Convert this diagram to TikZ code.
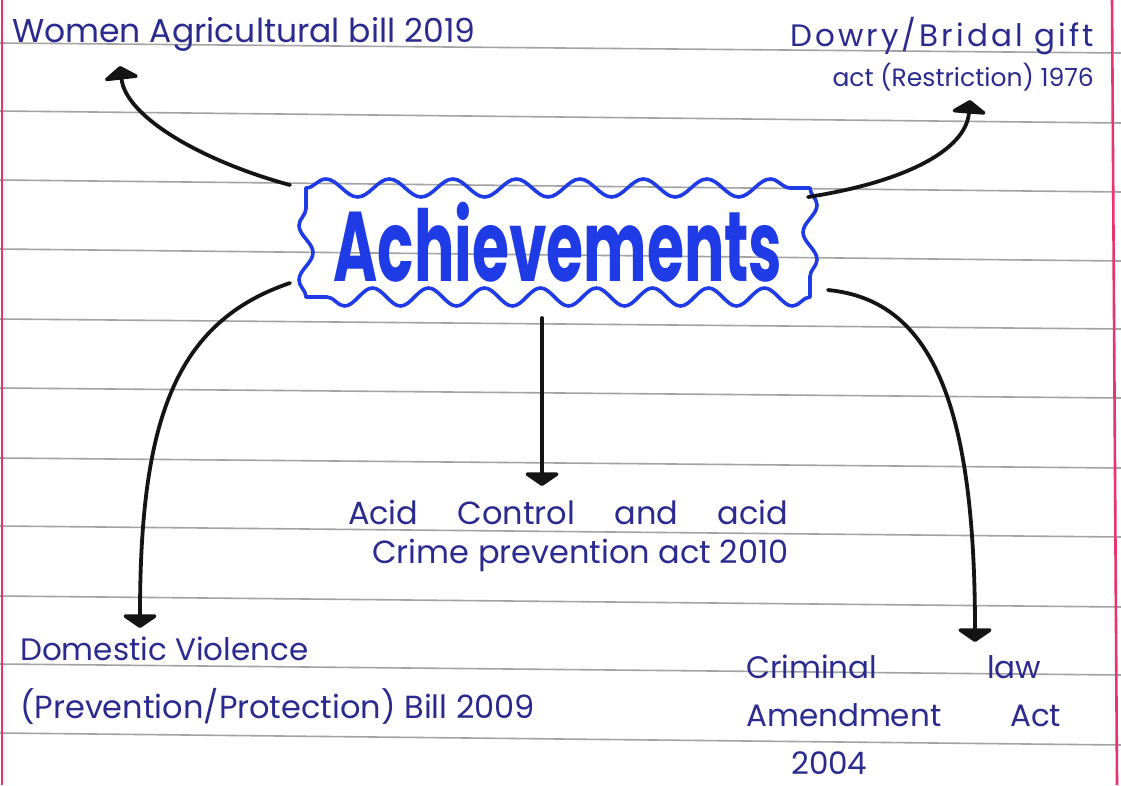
\documentclass[tikz,border=0pt]{standalone}
\usepackage{fontspec}
\setmainfont{Poppins}
\usetikzlibrary{arrows.meta,decorations.pathmorphing,calc}
\definecolor{ink}{HTML}{2B2A8E}
\definecolor{bright}{HTML}{1E3BE6}
\definecolor{rulegrey}{HTML}{A3A3A3}
\definecolor{marginpink}{HTML}{E8336E}
\definecolor{pen}{HTML}{141414}
\tikzset{
  hw/.style={text=ink, inner sep=0pt, font=\fontsize{32}{40}\selectfont},
  conn/.style={draw=pen, line width=3.8pt, line cap=round,
    -{Triangle[width=40pt,length=14pt,round]}},
  wavyline/.style={draw=bright, line width=3.6pt, line cap=round, line join=round},
  ruling/.style={draw=rulegrey, line width=1.6pt},
  marginline/.style={draw=marginpink, line width=2.6pt}
}
\begin{document}
\begin{tikzpicture}[x=1pt,y=-1pt]
\useasboundingbox[fill=white] (0,0) rectangle (1121,785);
% ruled lines
\foreach \yl/\yr in {43/53,111/123,180/192,249/261,319/329,388/398,458/468,526/537,596/607,664/675,733/745}
  \draw[ruling] (0,\yl) -- (1121,\yr);
% margins
\draw[marginline] (2,0) -- (2,785);
\draw[marginline] (1112,0) -- (1117,785);

% central node
\node[text=bright, inner sep=0pt, minimum width=500pt, minimum height=110pt,
  font=\fontsize{60}{62}\bfseries\selectfont] (ach) at (558,242) {\scalebox{1}[1.65]{Achievements}};
% wavy border
\draw[wavyline] decorate[decoration={snake, segment length=63.5pt, amplitude=9pt}] {(306,188) -- (810,188)};
\draw[wavyline] decorate[decoration={snake, segment length=54.5pt, amplitude=7pt}] {(810,188) -- (810,297)};
\draw[wavyline] decorate[decoration={snake, segment length=56pt, amplitude=9pt}] {(810,297) -- (306,297)};
\draw[wavyline] decorate[decoration={snake, segment length=54.5pt, amplitude=7pt}] {(306,297) -- (306,188)};

% text nodes
\node[hw, anchor=base west, font=\fontsize{33}{40}\selectfont] (women) at (12,42) {Women Agricultural bill 2019};
\node[hw, anchor=north east, align=right, font=\fontsize{25}{40}\selectfont] (dowry) at (1094,17) {{\fontsize{31}{40}\selectfont\addfontfeature{LetterSpace=10}Dowry/Bridal gift}\\act (Restriction) 1976};
\node[hw, anchor=north, align=center, font=\fontsize{32}{39}\selectfont] (acid) at (568,500) {\makebox[440pt][s]{Acid Control and acid}\\\hspace*{25pt}Crime prevention act 2010};
\node[hw, anchor=north west, align=left, font=\fontsize{31}{58}\selectfont] (dv) at (20,637) {Domestic Violence\\{\fontsize{32}{58}\selectfont(Prevention/Protection) Bill 2009}};
\node[hw, anchor=north west, align=left, font=\fontsize{31}{48}\selectfont] (cla) at (746,655) {\makebox[295pt][s]{Criminal\hfill law}\\\makebox[315pt][s]{Amendment\hfill Act}\\\hspace*{45pt}2004};

% connector end points
\coordinate (s1) at (290,185);
\coordinate (e1) at (120,66);
\coordinate (s2) at (808,197);
\coordinate (e2) at (970,100);
\coordinate (s3) at (290,283);
\coordinate (e3) at (140,628);
\coordinate (s4) at (542,318);
\coordinate (e4) at (542,486);
\coordinate (s5) at (828,290);
\coordinate (e5) at (975,642);

\draw[conn] (s1) .. controls (205,162) and (126,118) .. (e1);
\draw[conn] (s2) .. controls (905,182) and (966,150) .. (e2);
\draw[conn] (s3) .. controls (175,322) and (140,420) .. (e3);
\draw[conn] (s4) -- (e4);
\draw[conn] (s5) .. controls (930,300) and (975,400) .. (e5);
\end{tikzpicture}
\end{document}
